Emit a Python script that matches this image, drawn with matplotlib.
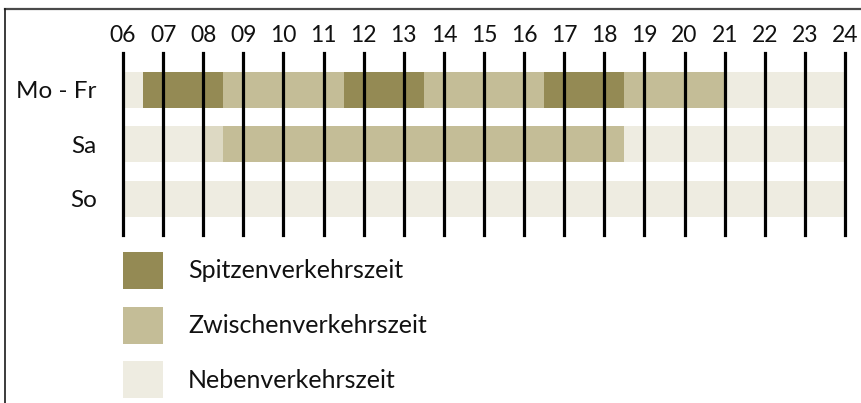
import matplotlib
matplotlib.use("Agg")
import matplotlib.pyplot as plt
from matplotlib.patches import Patch
from matplotlib.lines import Line2D

plt.rcParams['font.family'] = ['Lato', 'DejaVu Sans']

# Data
days = ["Mo - Fr", "Sa", "So"]
hours = list(range(6, 25))
hour_labels = [f"{h:02d}" for h in hours]
categories = ["Spitzenverkehrszeit", "Zwischenverkehrszeit", "Nebenverkehrszeit"]

# segments per day: (start, end, category)
segments = {
    "Mo - Fr": [(6.0, 6.5, "Nebenverkehrszeit"), (6.5, 8.5, "Spitzenverkehrszeit"),
                (8.5, 11.5, "Zwischenverkehrszeit"), (11.5, 13.5, "Spitzenverkehrszeit"),
                (13.5, 16.5, "Zwischenverkehrszeit"), (16.5, 18.5, "Spitzenverkehrszeit"),
                (18.5, 21.0, "Zwischenverkehrszeit"), (21.0, 24.0, "Nebenverkehrszeit")],
    "Sa": [(6.0, 8.0, "Nebenverkehrszeit"), (8.0, 8.5, "Übergang"),
           (8.5, 18.5, "Zwischenverkehrszeit"), (18.5, 24.0, "Nebenverkehrszeit")],
    "So": [(6.0, 24.0, "Nebenverkehrszeit")],
}

colors = {
    "Spitzenverkehrszeit": "#948a54",
    "Zwischenverkehrszeit": "#c4bd97",
    "Nebenverkehrszeit": "#eeece1",
    "Übergang": "#ddd9c3",
}

W, H = 862, 403
fig = plt.figure(figsize=(W / 100, H / 100), dpi=100)

# axes geometry in pixels
x0_px, x1_px = 123, 845
y_top_px, y_bot_px = 53, 235
ax = fig.add_axes([x0_px / W, 1 - y_bot_px / H, (x1_px - x0_px) / W, (y_bot_px - y_top_px) / H])

# y mapping: row centers at 90, 144.5, 198.5 px
row_px = [90, 144.5, 198.5]
spacing = (row_px[-1] - row_px[0]) / (len(days) - 1)
ytop = 0 - (row_px[0] - y_top_px) / spacing
ybot = (len(days) - 1) + (y_bot_px - row_px[-1]) / spacing
ax.set_ylim(ybot, ytop)
ax.set_xlim(6, 24)

bar_h = 36 / spacing
for i, d in enumerate(days):
    for s, e, c in segments[d]:
        ax.barh(i, e - s, left=s, height=bar_h, color=colors[c], linewidth=0, zorder=1)

for h in hours:
    ax.axvline(h, color="black", lw=2.3, zorder=3, clip_on=False)

ax.xaxis.tick_top()
ax.set_xticks(hours)
ax.set_xticklabels(hour_labels, fontsize=16.5, color="#111111")
ax.tick_params(axis="x", length=0, pad=5)
ax.set_yticks(range(len(days)))
ax.set_yticklabels(days, fontsize=17.5, color="#111111")
ax.tick_params(axis="y", length=0, pad=19)
for sp in ax.spines.values():
    sp.set_visible(False)

# legend
fs = 18
fpx = fs * 100 / 72
sq_w, sq_h = 40, 37
hh = (sq_h / fpx - 0.245) / 0.65
handles = [Patch(facecolor=colors[c], edgecolor="none", label=c) for c in categories]
fig.legend(handles=handles, loc="upper left",
           bbox_to_anchor=(123 / W, 1 - 252 / H), frameon=False,
           fontsize=fs, handlelength=sq_w / fpx, handleheight=hh,
           labelspacing=0.7, handletextpad=25 / fpx,
           borderpad=0, borderaxespad=0, labelcolor="#111111")

# frame lines
fig.add_artist(Line2D([5 / W, 1], [1 - 8.5 / H, 1 - 8.5 / H], color="#4a4a4a", lw=1.6))
fig.add_artist(Line2D([5 / W, 5 / W], [0, 1 - 8.5 / H], color="#1a1a1a", lw=1.2))

fig.savefig("out.png", dpi=100)
